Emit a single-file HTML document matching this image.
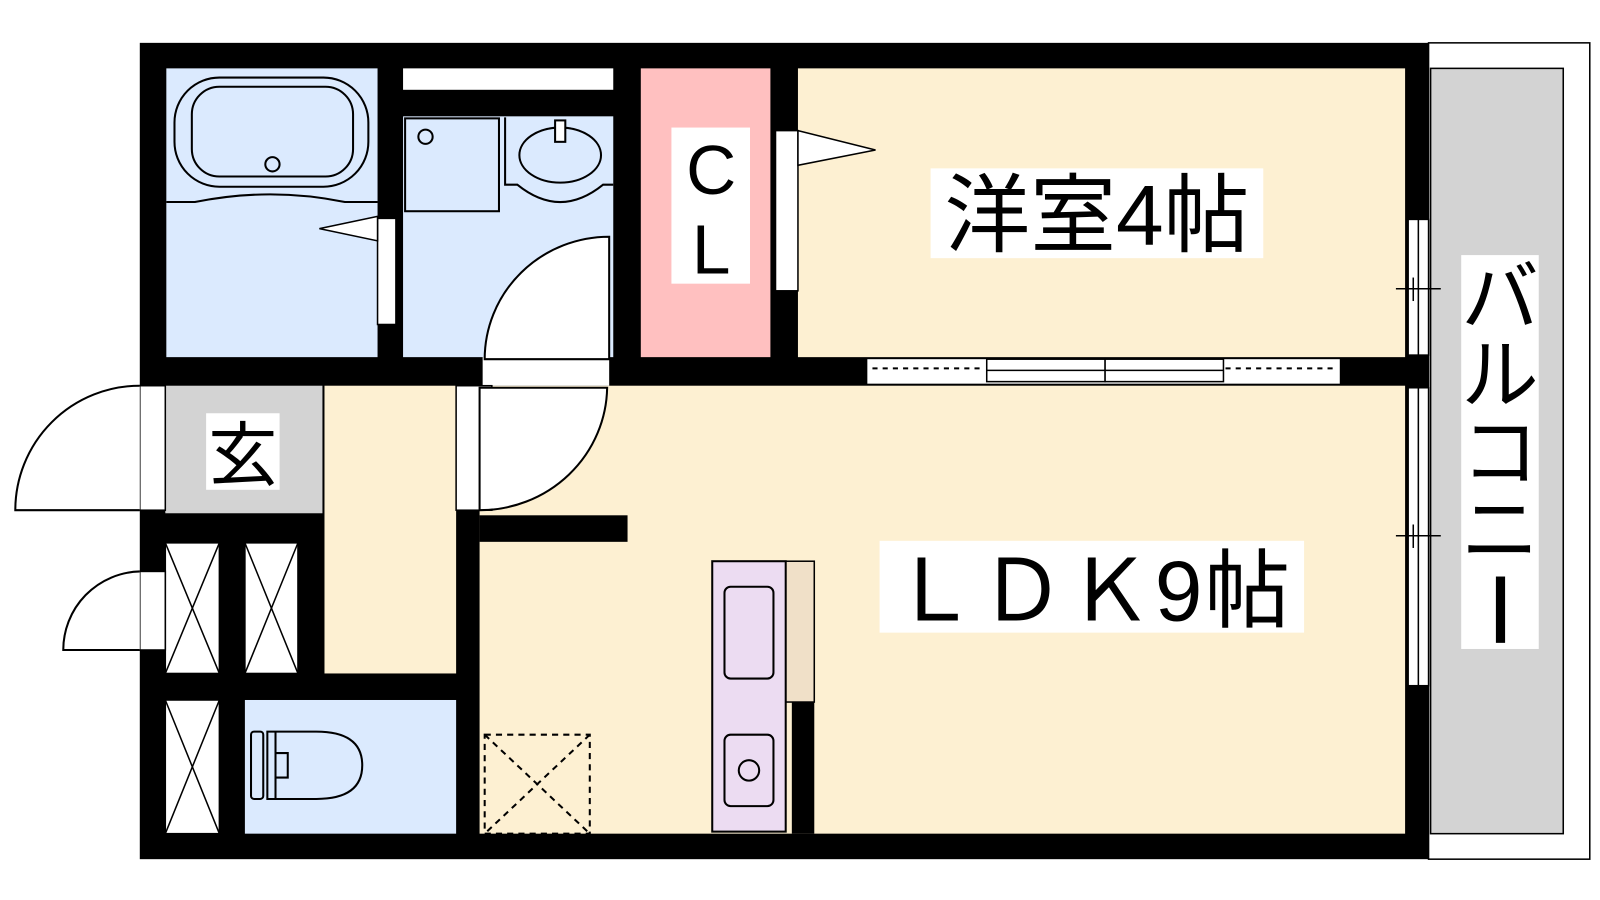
<!DOCTYPE html>
<html><head><meta charset="utf-8"><style>
html,body{margin:0;padding:0;background:#fff;width:1600px;height:900px;overflow:hidden}
svg{display:block}
text{font-family:"Liberation Sans","Noto Sans CJK JP",sans-serif;fill:#000}
</style></head><body>
<svg width="1600" height="900" viewBox="0 0 1600 900" xmlns="http://www.w3.org/2000/svg">
<g transform="scale(1.0204)">
<rect x="1400" y="42" width="158" height="800" fill="#fff" stroke="#000" stroke-width="1.5"/>
<rect x="1402" y="67" width="130" height="750" fill="#d3d3d3" stroke="#000" stroke-width="1.5"/>
<rect x="137" y="42" width="1263" height="800" fill="#000"/>
<rect x="163" y="67" width="207" height="283" fill="#dbeafe"/>
<rect x="395" y="67" width="206" height="21" fill="#fff"/>
<rect x="395" y="114" width="206" height="236" fill="#dbeafe"/>
<rect x="628" y="67" width="127" height="283" fill="#ffc0c0"/>
<rect x="782" y="67" width="595" height="283" fill="#fdf0d2"/>
<rect x="162" y="378" width="154" height="125" fill="#d3d3d3"/>
<rect x="318" y="378" width="129" height="282" fill="#fdf0d2"/>
<rect x="470" y="378" width="907" height="439" fill="#fdf0d2"/>
<rect x="240" y="686" width="207" height="131" fill="#dbeafe"/>
<g fill="#fff" stroke="#000" stroke-width="1.5">
<rect x="162" y="532" width="53" height="128"/><rect x="240" y="532" width="52" height="128"/><rect x="162" y="686" width="53" height="131"/>
</g>
<g stroke="#000" stroke-width="1.5">
<line x1="162" y1="532" x2="215" y2="660"/><line x1="215" y1="532" x2="162" y2="660"/>
<line x1="240" y1="532" x2="292" y2="660"/><line x1="292" y1="532" x2="240" y2="660"/>
<line x1="162" y1="686" x2="215" y2="817"/><line x1="215" y1="686" x2="162" y2="817"/>
</g>
<g fill="none" stroke="#000" stroke-width="2">
<rect x="171" y="76" width="190" height="107" rx="44"/>
<rect x="188" y="85" width="158" height="88" rx="27"/>
<circle cx="267" cy="161" r="7"/>
<path d="M163 198 L191 198 Q265 183 338 198 L370 198"/>
<rect x="397" y="116" width="92" height="91"/>
<circle cx="417" cy="134" r="7"/>
<path d="M495 115 L495 181 L507 181 Q549 215 591 181 L601 181"/>
<ellipse cx="549" cy="152" rx="40" ry="27"/>
<rect x="544" y="118" width="10" height="21" fill="#fff"/>
</g>
<rect x="370" y="214" width="18" height="104" fill="#fff" stroke="#000" stroke-width="1.5"/>
<polygon points="370,212 313,224 370,236" fill="#fff" stroke="#000" stroke-width="1.5"/>
<rect x="473" y="350" width="124" height="28" fill="#fff"/>
<path d="M597 232 L597 352 L475 352 A122 120 0 0 1 597 232 Z" fill="#fff" stroke="#000" stroke-width="2"/>
<rect x="447" y="378" width="35" height="122" fill="#fff" stroke="#000" stroke-width="1.5"/>
<path d="M470 380 L595 380 A125 122 0 0 1 470 500 Z" fill="#fff" stroke="#000" stroke-width="2"/>
<rect x="470" y="505" width="145" height="26" fill="#000"/>
<rect x="137" y="378" width="25" height="122" fill="#fff" stroke="#000" stroke-width="1.5"/>
<path d="M137 378 A122 122 0 0 0 15 500 L137 500" fill="#fff" stroke="#000" stroke-width="2"/>
<rect x="137" y="560" width="25" height="77" fill="#fff" stroke="#000" stroke-width="1.5"/>
<path d="M137 560 A77 77 0 0 0 62 637 L137 637" fill="#fff" stroke="#000" stroke-width="2"/>
<g fill="none" stroke="#000" stroke-width="2">
<rect x="246" y="717" width="12" height="66" rx="3"/>
<path d="M262 717 L310 717 Q355 717 355 750 Q355 783 310 783 L262 783 Z"/>
<line x1="270" y1="717" x2="270" y2="783"/>
<path d="M270 738 L282 738 L282 762 L270 762"/>
</g>
<g fill="none" stroke="#000" stroke-width="2" stroke-dasharray="6,5">
<rect x="475" y="720" width="103" height="97"/>
<line x1="475" y1="720" x2="578" y2="817"/><line x1="578" y1="720" x2="475" y2="817"/>
</g>
<rect x="770" y="550" width="28" height="138" fill="#f0e0c8" stroke="#000" stroke-width="1.5"/>
<rect x="776" y="688" width="22" height="129" fill="#000"/>
<rect x="698" y="550" width="72" height="265" fill="#ecdcf2" stroke="#000" stroke-width="2"/>
<rect x="710" y="575" width="48" height="90" rx="6" fill="none" stroke="#000" stroke-width="2"/>
<rect x="710" y="720" width="48" height="70" rx="6" fill="none" stroke="#000" stroke-width="2"/>
<circle cx="734" cy="755" r="10" fill="none" stroke="#000" stroke-width="2"/>
<rect x="760" y="128" width="22" height="157" fill="#fff" stroke="#000" stroke-width="1.5"/>
<polygon points="782,128 858,147 782,162" fill="#fff" stroke="#000" stroke-width="1.5"/>
<rect x="850" y="352" width="463" height="24" fill="#fff"/>
<g stroke="#000" stroke-width="1.5" fill="#fff">
<rect x="967" y="352" width="116" height="22"/><rect x="1083" y="352" width="116" height="22"/>
<line x1="967" y1="363" x2="1199" y2="363"/>
</g>
<g stroke="#000" stroke-width="2" stroke-dasharray="5,5">
<line x1="855" y1="361" x2="965" y2="361"/><line x1="1201" y1="361" x2="1311" y2="361"/>
</g>
<g fill="#fff" stroke="#000" stroke-width="1.5">
<rect x="1380" y="215" width="20" height="133"/><rect x="1380" y="380" width="20" height="292"/>
</g>
<g stroke="#000" stroke-width="1.5">
<line x1="1390" y1="215" x2="1390" y2="348"/><line x1="1390" y1="380" x2="1390" y2="672"/>
<line x1="1368" y1="283" x2="1412" y2="283"/><line x1="1385" y1="272" x2="1385" y2="295"/>
<line x1="1368" y1="525" x2="1412" y2="525"/><line x1="1385" y1="514" x2="1385" y2="537"/>
</g>
<rect x="202" y="405" width="72" height="75" fill="#fff"/>
<text x="238" y="470" font-size="68" text-anchor="middle">玄</text>
<rect x="658" y="125" width="77" height="153" fill="#fff"/>
<text x="697" y="190" font-size="68" text-anchor="middle">C</text>
<text x="697" y="268" font-size="68" text-anchor="middle">L</text>
<rect x="912" y="165" width="326" height="88" fill="#fff"/>
<text x="1075" y="240" font-size="84" text-anchor="middle">洋室4帖</text>
<rect x="862" y="530" width="416" height="90" fill="#fff"/>
<text x="1070" y="608" font-size="84" text-anchor="middle" letter-spacing="2">ＬＤＫ9帖</text>
<rect x="1432" y="250" width="76" height="386" fill="#fff"/>
<text font-size="76" text-anchor="middle">
<tspan x="1470" y="318">バ</tspan><tspan x="1470" y="394">ル</tspan><tspan x="1470" y="470">コ</tspan><tspan x="1470" y="546">ニ</tspan>
</text>
<rect x="1466" y="565" width="9" height="65" fill="#000"/>
</g>
</svg>
</body></html>
